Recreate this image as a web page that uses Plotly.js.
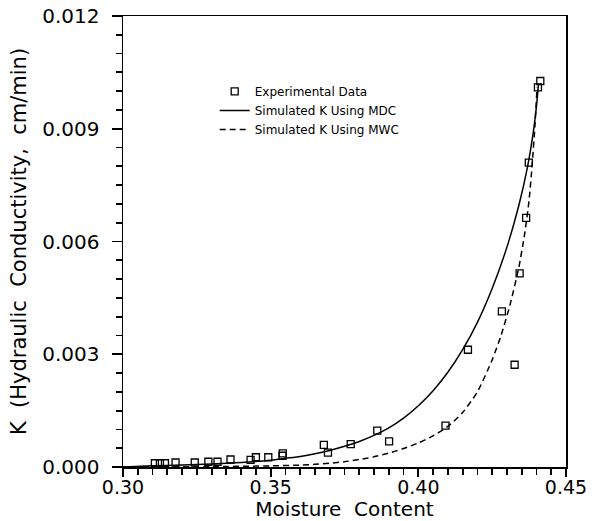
<!DOCTYPE html>
<html>
<head>
<meta charset="utf-8">
<script src="https://cdn.plot.ly/plotly-3.0.1.min.js"></script>
<style>html,body{margin:0;padding:0;background:#fff;}#chart{width:599px;height:521px;}</style>
</head>
<body>
<div id="chart"></div>
<script>
// Experimental data (moisture content, K)
const expTheta = [0.3108, 0.3125, 0.3142, 0.3178, 0.3243, 0.3289, 0.3320, 0.3364, 0.3432, 0.3450, 0.3492, 0.3540, 0.3541,
                  0.3680, 0.3694, 0.3771, 0.3861, 0.3901, 0.4092, 0.4168, 0.4283, 0.4326, 0.4343, 0.4365, 0.4374, 0.4405, 0.4413];
const expK =     [0.00010, 0.00010, 0.00010, 0.00012, 0.00012, 0.00014, 0.00014, 0.00020, 0.00019, 0.00026, 0.00026, 0.00030, 0.00036,
                  0.00059, 0.00038, 0.00061, 0.00097, 0.00068, 0.00110, 0.00312, 0.00414, 0.00272, 0.00515, 0.00663, 0.00810, 0.01010, 0.01027];

// Simulated K using MDC (solid)
const mdcTheta = [0.300, 0.310, 0.320, 0.330, 0.340, 0.350, 0.355, 0.360, 0.365, 0.370, 0.375, 0.380, 0.385, 0.390, 0.395,
                  0.400, 0.405, 0.410, 0.415, 0.420, 0.425, 0.430, 0.434, 0.437, 0.439, 0.440, 0.4407];
const mdcK =     [0.00000, 0.00003, 0.00005, 0.00008, 0.00012, 0.00018, 0.00023, 0.00028, 0.00035, 0.00044, 0.00055, 0.00068, 0.00084, 0.00104, 0.00130,
                  0.00163, 0.00203, 0.00252, 0.00312, 0.00385, 0.00475, 0.00585, 0.00695, 0.00800, 0.00895, 0.00960, 0.01020];

// Simulated K using MWC (dashed)
const mwcTheta = [0.300, 0.330, 0.350, 0.360, 0.365, 0.370, 0.375, 0.380, 0.385, 0.390, 0.395, 0.400, 0.405, 0.410,
                  0.415, 0.420, 0.425, 0.428, 0.431, 0.434, 0.436, 0.4375, 0.4385, 0.4395, 0.4402];
const mwcK =     [0.00000, 0.00001, 0.00003, 0.00005, 0.00007, 0.00010, 0.00014, 0.00020, 0.00027, 0.00037, 0.00049, 0.00064, 0.00083, 0.00108,
                  0.00145, 0.00200, 0.00285, 0.00350, 0.00430, 0.00530, 0.00620, 0.00710, 0.00800, 0.00910, 0.01010];

// Axis ticks and labels
const xMajor = [0.30, 0.35, 0.40, 0.45];
const yMajor = [0.000, 0.003, 0.006, 0.009, 0.012];
const xMinorStep = 0.005;
const yMinorStep = 0.0005;

const xTitle = 'Moisture\u00A0 Content';
const yTitle = 'K\u00A0 (Hydraulic\u00A0 Conductivity,\u00A0 cm/min)';
const legendNames = ['Experimental Data', 'Simulated K Using MDC', 'Simulated K Using MWC'];

function minorTicks(lo, hi, step) {
  const out = [];
  const n = Math.round((hi - lo) / step);
  for (let i = 0; i <= n; i++) out.push(+(lo + i * step).toFixed(6));
  return out;
}
function labelsFor(vals, majors, digits) {
  return vals.map(v => majors.some(m => Math.abs(m - v) < 1e-9) ? v.toFixed(digits) : '');
}
const xAll = minorTicks(xMajor[0], xMajor[xMajor.length - 1], xMinorStep);
const yAll = minorTicks(yMajor[0], yMajor[yMajor.length - 1], yMinorStep);

const FONT = 'DejaVu Sans, sans-serif';
const xRange = [xMajor[0], xMajor[xMajor.length - 1]];
const yRange = [yMajor[0], yMajor[yMajor.length - 1]];

const traces = [
  {
    x: expTheta, y: expK, type: 'scatter', mode: 'markers', name: legendNames[0],
    marker: {symbol: 'square-open', size: 7, color: '#000', line: {width: 1.3, color: '#000'}}
  },
  {
    x: mdcTheta, y: mdcK, type: 'scatter', mode: 'lines', name: legendNames[1],
    line: {color: '#000', width: 1.5, shape: 'spline', smoothing: 0.6}
  },
  {
    x: mwcTheta, y: mwcK, type: 'scatter', mode: 'lines', name: legendNames[2],
    line: {color: '#000', width: 1.5, dash: '6px,4px', shape: 'spline', smoothing: 0.6}
  },
  // empty trace so the overlay axes (longer major ticks) are drawn
  { x: [], y: [], type: 'scatter', mode: 'markers', xaxis: 'x2', yaxis: 'y2', showlegend: false, hoverinfo: 'skip' }
];

const layout = {
  width: 599, height: 521,
  margin: {l: 123, r: 33, t: 16, b: 54},
  paper_bgcolor: '#fff', plot_bgcolor: 'rgba(0,0,0,0)',
  font: {family: FONT, color: '#000'},
  showlegend: true,
  legend: {
    x: 0.207, y: 0.865, xanchor: 'left', yanchor: 'top',
    bgcolor: 'rgba(0,0,0,0)', borderwidth: 0,
    font: {family: FONT, size: 12, color: '#000'},
    tracegroupgap: 0
  },
  xaxis: {
    range: xRange,
    tickmode: 'array', tickvals: xAll, ticktext: labelsFor(xAll, xMajor, 2),
    ticks: 'outside', ticklen: 6, tickwidth: 1.8, tickcolor: '#000',
    ticklabelstandoff: -3,
    showline: true, linecolor: '#000', linewidth: 1.5, mirror: true,
    showgrid: false, zeroline: false,
    tickfont: {family: FONT, size: 19, color: '#000'},
    title: {text: xTitle, font: {family: FONT, size: 20, color: '#000'}, standoff: 6}
  },
  yaxis: {
    range: yRange,
    tickmode: 'array', tickvals: yAll, ticktext: labelsFor(yAll, yMajor, 3),
    ticks: 'outside', ticklen: 6, tickwidth: 1.8, tickcolor: '#000',
    ticklabelstandoff: 12,
    showline: true, linecolor: '#000', linewidth: 1.5, mirror: true,
    showgrid: false, zeroline: false,
    tickfont: {family: FONT, size: 20, color: '#000'},
    title: {text: yTitle, font: {family: FONT, size: 21, color: '#000'}, standoff: 10}
  },
  xaxis2: {
    overlaying: 'x', anchor: 'y2', side: 'bottom', range: xRange,
    tickmode: 'array', tickvals: xMajor, showticklabels: false,
    ticks: 'outside', ticklen: 9, tickwidth: 1.8, tickcolor: '#000',
    showline: false, showgrid: false, zeroline: false
  },
  yaxis2: {
    overlaying: 'y', anchor: 'x2', side: 'left', range: yRange,
    tickmode: 'array', tickvals: yMajor, showticklabels: false,
    ticks: 'outside', ticklen: 10, tickwidth: 1.8, tickcolor: '#000',
    showline: false, showgrid: false, zeroline: false
  }
};

Plotly.newPlot('chart', traces, layout, {displayModeBar: false, staticPlot: true});
</script>
</body>
</html>
